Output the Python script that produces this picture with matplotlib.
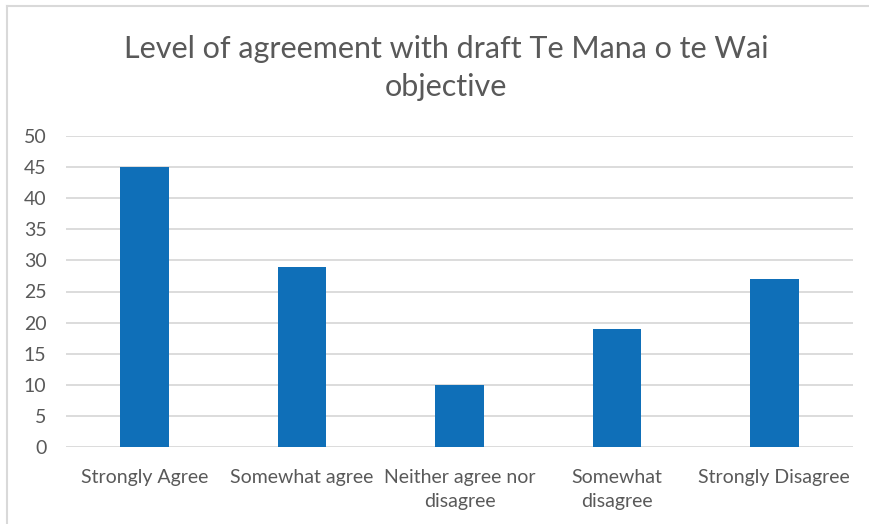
import matplotlib.pyplot as plt
from matplotlib.lines import Line2D

# Survey responses
categories = ['Strongly Agree', 'Somewhat agree', 'Neither agree nor\ndisagree',
              'Somewhat\ndisagree', 'Strongly Disagree']
counts = [45, 29, 10, 19, 27]
y_ticks = [0, 5, 10, 15, 20, 25, 30, 35, 40, 45, 50]

text_color = '#595959'
bar_color = '#0f6fb8'
grid_color = '#d9d9d9'

plt.rcParams['font.family'] = ['Lato', 'DejaVu Sans']

fig = plt.figure(figsize=(8.69, 5.24), dpi=100)
ax = fig.add_axes([66 / 869, 1 - 447 / 524, 787 / 869, 311 / 524])

x = range(len(categories))
ax.bar(x, counts, width=0.31, color=bar_color, zorder=3)

ax.set_xlim(-0.5, len(categories) - 0.5)
ax.set_ylim(0, 50)
ax.set_yticks(y_ticks)
ax.set_xticks(list(x))
ax.set_xticklabels(categories, linespacing=1.45)
ax.tick_params(axis='both', length=0, colors=text_color, labelsize=14)
ax.tick_params(axis='x', pad=16)
ax.tick_params(axis='y', pad=14)
ax.grid(axis='y', color=grid_color, linewidth=1.3, zorder=0)
for side in ax.spines.values():
    side.set_visible(False)

fig.text(0.513, 1 - 68 / 524, 'Level of agreement with draft Te Mana o te Wai\nobjective',
         ha='center', va='center', fontsize=22, color=text_color, linespacing=1.45)

# Chart frame edges
fig.add_artist(Line2D([7 / 869, 1], [1 - 5.5 / 524, 1 - 5.5 / 524],
                      transform=fig.transFigure, color='#d9d9d9', linewidth=1.5))
fig.add_artist(Line2D([7 / 869, 7 / 869], [0, 1 - 5.5 / 524],
                      transform=fig.transFigure, color='#d9d9d9', linewidth=1.5))

fig.savefig('out.png', dpi=100)
